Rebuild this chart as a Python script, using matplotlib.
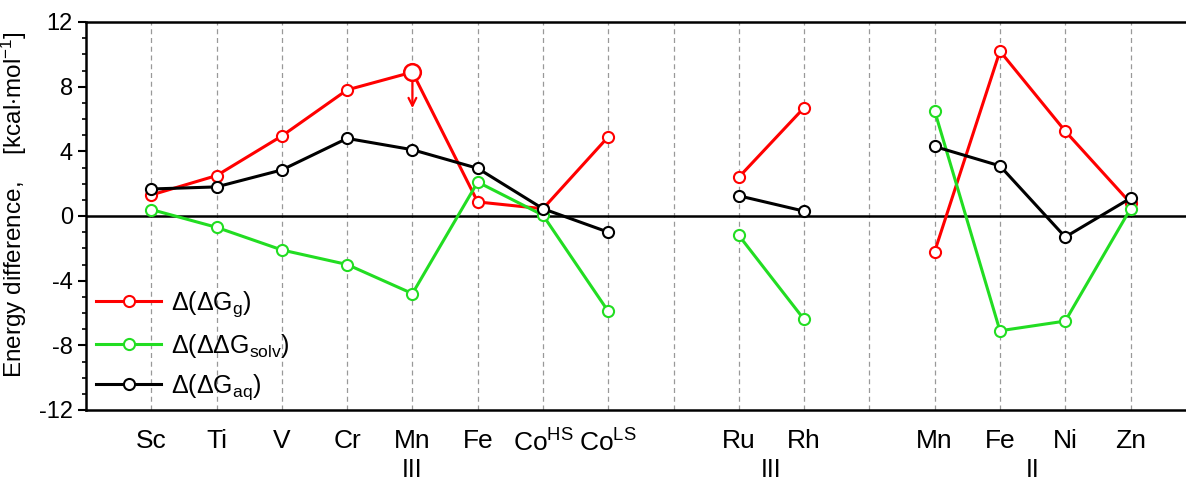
import matplotlib.pyplot as plt
from matplotlib.ticker import MultipleLocator

plt.rcParams['font.family'] = ['Liberation Sans', 'DejaVu Sans']
plt.rcParams['mathtext.default'] = 'regular'
plt.rcParams['axes.unicode_minus'] = False

# x positions: 0-7 group III (3d), 8 empty, 9-10 group III (4d), 11 empty, 12-15 group II
labels = ['Sc', 'Ti', 'V', 'Cr', 'Mn', 'Fe', 'Co$^{HS}$', 'Co$^{LS}$', '',
          'Ru', 'Rh', '', 'Mn', 'Fe', 'Ni', 'Zn']
groups = ['III', 'III', 'II']

x1 = [0, 1, 2, 3, 4, 5, 6, 7]
x2 = [9, 10]
x3 = [12, 13, 14, 15]

dg_g1 = [1.3, 2.5, 4.95, 7.8, 8.9, 0.87, 0.45, 4.9]
dg_g2 = [2.4, 6.7]
dg_g3 = [-2.2, 10.2, 5.25, 0.8]

ddg_solv1 = [0.4, -0.7, -2.1, -3.0, -4.8, 2.1, 0.05, -5.9]
ddg_solv2 = [-1.2, -6.4]
ddg_solv3 = [6.5, -7.1, -6.5, 0.45]

dg_aq1 = [1.67, 1.8, 2.85, 4.8, 4.1, 2.95, 0.45, -1.0]
dg_aq2 = [1.25, 0.3]
dg_aq3 = [4.3, 3.1, -1.3, 1.1]

fig = plt.figure(figsize=(11.86, 4.95), dpi=100)
ax = fig.add_axes([86 / 1186, 1 - 410 / 495, 1 - 86 / 1186, 388 / 495])

for xx in range(16):
    ax.axvline(xx, color='#999999', ls=(0, (4, 3)), lw=0.9, zorder=0)
ax.axhline(0, color='black', lw=1.8, zorder=1)

style = dict(marker='o', ms=8, mfc='white', mew=1.5, lw=2.2)
series = [
    ('red', '$\\Delta(\\Delta G_g)$', [dg_g1, dg_g2, dg_g3]),
    ('#22dd22', '$\\Delta(\\Delta\\Delta G_{solv})$', [ddg_solv1, ddg_solv2, ddg_solv3]),
    ('black', '$\\Delta(\\Delta G_{aq})$', [dg_aq1, dg_aq2, dg_aq3]),
]
for color, name, parts in series:
    for i, (xs, ys) in enumerate(zip([x1, x2, x3], parts)):
        ax.plot(xs, ys, color=color, mec=color, label=name if i == 0 else None,
                zorder=3, **style)

# bigger marker and arrow at Mn(III)
ax.plot([4], [dg_g1[4]], 'o', ms=12, mfc='white', mec='red', mew=1.8, zorder=4)
ax.annotate('', xy=(4, 6.5), xytext=(4, 8.5),
            arrowprops=dict(arrowstyle='->', color='red', lw=1.6, mutation_scale=14))

ax.set_xlim(-1, 15.85)
ax.set_ylim(-12, 12)
ax.set_xticks(range(16))
ax.set_xticklabels(labels, fontsize=19)
ax.tick_params(axis='x', length=0, pad=14)
ax.set_yticks([-12, -8, -4, 0, 4, 8, 12])
ax.yaxis.set_minor_locator(MultipleLocator(1))
ax.tick_params(axis='y', which='major', length=6, width=1.5, labelsize=17, direction='out')
ax.tick_params(axis='y', which='minor', length=3, width=1.2, direction='out')
for s in ['left', 'bottom', 'top']:
    ax.spines[s].set_linewidth(1.8)
ax.spines['right'].set_visible(False)

ax.set_ylabel('Energy difference,    [kcal$\\cdot$mol$^{-1}$]', fontsize=17.5)
ax.yaxis.set_label_coords(-0.052, 0.53)

for gx, g in zip([4, 9.5, 13.5], groups):
    ax.text(gx, -15.7, g, ha='center', va='center', fontsize=18)

ax.legend(loc='lower left', bbox_to_anchor=(0.0, -0.005), frameon=False, fontsize=18,
          handlelength=2.6, labelspacing=0.5, borderaxespad=0.0, handletextpad=0.4)

fig.savefig('out.png', dpi=100)
